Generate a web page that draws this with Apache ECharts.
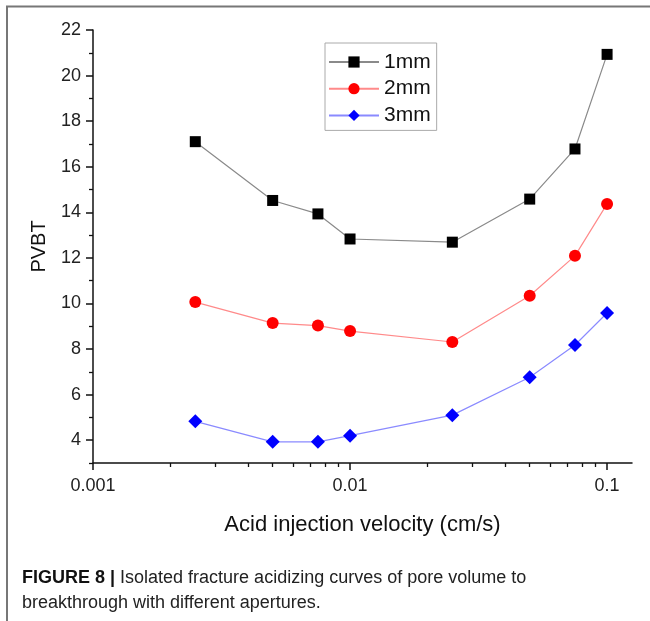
<!DOCTYPE html>
<html>
<head>
<meta charset="utf-8">
<script src="https://cdn.jsdelivr.net/npm/echarts@6/dist/echarts.min.js"></script>
<style>
  html, body { margin: 0; padding: 0; background: #fff; }
  #chart { width: 650px; height: 621px; }
</style>
</head>
<body>
<div id="chart"></div>
<script>
const velocity = [0.0025, 0.005, 0.0075, 0.01, 0.025, 0.05, 0.075, 0.1];
const pvbt1mm = [17.1, 14.52, 13.93, 12.83, 12.69, 14.58, 16.78, 20.93];
const pvbt2mm = [10.06, 9.14, 9.03, 8.79, 8.31, 10.34, 12.09, 14.37];
const pvbt3mm = [4.83, 3.93, 3.93, 4.2, 5.1, 6.76, 8.18, 9.58];

const xMajorTicks = [0.001, 0.01, 0.1];
const xMinorTicks = [0.002, 0.003, 0.004, 0.005, 0.006, 0.007, 0.008, 0.009,
  0.02, 0.03, 0.04, 0.05, 0.06, 0.07, 0.08, 0.09];
const yMajorTicks = [4, 6, 8, 10, 12, 14, 16, 18, 20, 22];
const yMinorTicks = [3, 5, 7, 9, 11, 13, 15, 17, 19, 21];

const font = "Liberation Sans, Arial, sans-serif";
const pairs = (ys) => velocity.map((v, i) => [v, ys[i]]);

const chart = echarts.init(document.getElementById("chart"));

const xBase = {
  type: "log",
  logBase: 10,
  min: 0.001,
  max: 0.125,
  position: "bottom",
  splitLine: { show: false },
  minorTick: { show: false }
};
const yBase = {
  type: "value",
  min: 3,
  max: 22,
  position: "left",
  splitLine: { show: false }
};

chart.setOption({
  animation: false,
  textStyle: { fontFamily: font },
  grid: { left: 93, right: 18, top: 30, bottom: 158, containLabel: false },
  legend: {
    left: 325,
    top: 43,
    orient: "vertical",
    itemWidth: 50,
    itemHeight: 14,
    itemGap: 4.7,
    padding: [8, 6, 4, 3],
    borderColor: "#aaa",
    borderWidth: 1,
    textStyle: { fontSize: 21, lineHeight: 22, color: "#111", fontFamily: font },
    data: ["1mm", "2mm", "3mm"]
  },
  xAxis: [
    Object.assign({}, xBase, {
      name: "Acid injection velocity (cm/s)",
      nameLocation: "middle",
      nameGap: 51,
      nameTextStyle: { fontSize: 22, color: "#111", fontFamily: font },
      axisLine: { lineStyle: { color: "#111", width: 1.5 } },
      axisTick: { length: 7, lineStyle: { color: "#111", width: 1.5 }, customValues: xMajorTicks },
      axisLabel: {
        fontSize: 18, color: "#222", margin: 14,
        customValues: xMajorTicks,
        formatter: (v) => String(v)
      }
    }),
    Object.assign({}, xBase, {
      axisLine: { show: false },
      axisTick: { length: 4, lineStyle: { color: "#111", width: 1.3 }, customValues: xMinorTicks },
      axisLabel: { show: false }
    })
  ],
  yAxis: [
    Object.assign({}, yBase, {
      name: "PVBT",
      nameLocation: "middle",
      nameGap: 44,
      nameRotate: 90,
      nameTextStyle: { fontSize: 20, color: "#111", fontFamily: font },
      axisLine: { lineStyle: { color: "#111", width: 1.5 } },
      axisTick: { length: 7, lineStyle: { color: "#111", width: 1.5 }, customValues: yMajorTicks },
      axisLabel: { fontSize: 18, color: "#222", margin: 12, customValues: yMajorTicks }
    }),
    Object.assign({}, yBase, {
      axisLine: { show: false },
      axisTick: { length: 4, lineStyle: { color: "#111", width: 1.3 }, customValues: yMinorTicks },
      axisLabel: { show: false }
    })
  ],
  series: [
    {
      name: "1mm",
      type: "line",
      data: pairs(pvbt1mm),
      symbol: "rect",
      symbolSize: 11,
      itemStyle: { color: "#000" },
      lineStyle: { color: "#8a8a8a", width: 1.2 }
    },
    {
      name: "2mm",
      type: "line",
      data: pairs(pvbt2mm),
      symbol: "circle",
      symbolSize: 12,
      itemStyle: { color: "#ff0000" },
      lineStyle: { color: "#ff8a8a", width: 1.2 }
    },
    {
      name: "3mm",
      type: "line",
      data: pairs(pvbt3mm),
      symbol: "diamond",
      symbolSize: 14,
      itemStyle: { color: "#0000ff" },
      lineStyle: { color: "#8a8aff", width: 1.2 }
    }
  ],
  graphic: [
    {
      type: "polyline",
      shape: { points: [[7, 621], [7, 6.5], [650, 6.5]] },
      style: { stroke: "#777", lineWidth: 2, fill: null },
      silent: true
    },
    {
      type: "text",
      left: 22,
      top: 569,
      style: {
        text: "{b|FIGURE 8 |} Isolated fracture acidizing curves of pore volume to",
        font: "18px " + font,
        fill: "#222",
        rich: { b: { fontWeight: "bold", fontSize: 18, fontFamily: font, fill: "#111" } }
      }
    },
    {
      type: "text",
      left: 22,
      top: 594,
      style: {
        text: "breakthrough with different apertures.",
        font: "18px " + font,
        fill: "#222"
      }
    }
  ]
});
</script>
</body>
</html>
